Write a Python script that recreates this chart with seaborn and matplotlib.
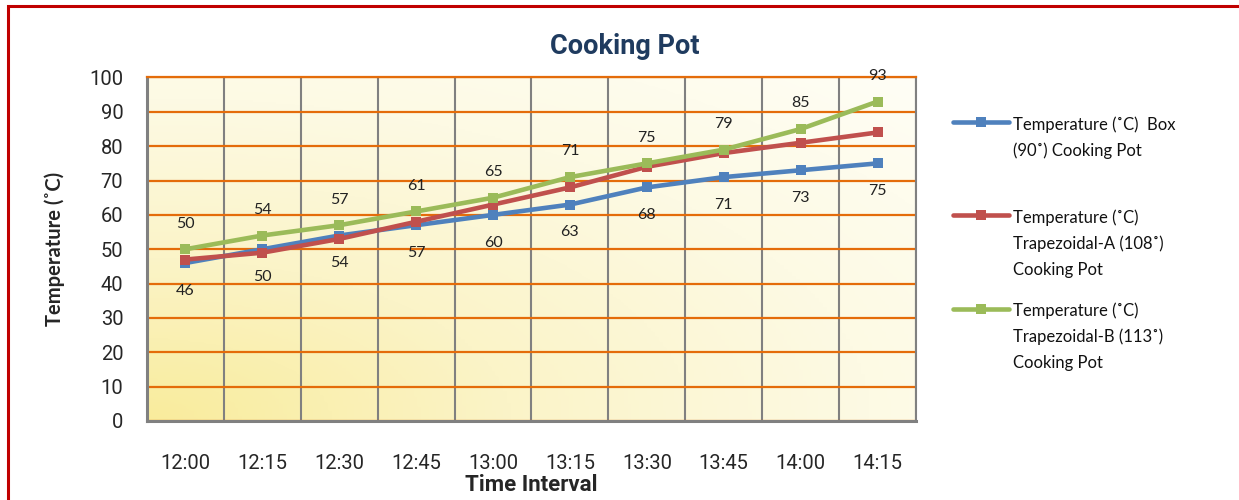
import numpy as np
import pandas as pd
import seaborn as sns
import matplotlib.pyplot as plt
from matplotlib import font_manager
from matplotlib.colors import LinearSegmentedColormap
from matplotlib.patches import Rectangle
from matplotlib.ticker import MultipleLocator, FixedLocator

# data
times = ["12:00", "12:15", "12:30", "12:45", "13:00",
         "13:15", "13:30", "13:45", "14:00", "14:15"]
box_90 = [46, 50, 54, 57, 60, 63, 68, 71, 73, 75]
trap_a_108 = [47, 49, 53, 58, 63, 68, 74, 78, 81, 84]
trap_b_113 = [50, 54, 57, 61, 65, 71, 75, 79, 85, 93]
series_names = [
    "Temperature (˚C)  Box\n(90˚) Cooking Pot",
    "Temperature (˚C)\nTrapezoidal-A (108˚)\nCooking Pot",
    "Temperature (˚C)\nTrapezoidal-B (113˚)\nCooking Pot",
]
colors = ["#4F81BD", "#C0504D", "#9BBB59"]

df = pd.DataFrame({
    "time": times * 3,
    "temp": box_90 + trap_a_108 + trap_b_113,
    "series": [series_names[0]] * 10 + [series_names[1]] * 10 + [series_names[2]] * 10,
})

sns.set_style("white")
installed = {f.name for f in font_manager.fontManager.ttflist}
narrow = ["Liberation Sans Narrow", "Roboto", "DejaVu Sans"]
narrow = [f for f in narrow if f in installed or f == "DejaVu Sans"]
body = ["Lato", "DejaVu Sans"]
plt.rcParams["font.family"] = body

fig = plt.figure(figsize=(12.39, 5), dpi=100)
ax = fig.add_axes([0.1186, 0.158, 0.6207, 0.687])

# soft yellow gradient behind the plot
cmap = LinearSegmentedColormap.from_list("bg", ["#F9EC9C", "#FBF4C8", "#FDFAE4", "#FFFEF6"])
gx, gy = np.meshgrid(np.linspace(0, 1, 200), np.linspace(0, 1, 200))
ax.imshow(np.sqrt(gx ** 2 + gy ** 2) / np.sqrt(2), extent=(-0.5, 9.5, 0, 100),
          origin="lower", cmap=cmap, aspect="auto", zorder=0, interpolation="bilinear")

sns.lineplot(data=df, x="time", y="temp", hue="series", hue_order=series_names,
             palette=colors, marker="s", markersize=7, markeredgewidth=0,
             linewidth=3.3, sort=False, errorbar=None, legend=False, ax=ax, zorder=3)

# data labels: blue under the points, green above
for i, v in enumerate(box_90):
    ax.annotate(str(v), (i, v), xytext=(0, -20), textcoords="offset points",
                ha="center", va="center", fontsize=11.5, color="#222222")
for i, v in enumerate(trap_b_113):
    ax.annotate(str(v), (i, v), xytext=(0, 18.5), textcoords="offset points",
                ha="center", va="center", fontsize=11.5, color="#222222")

ax.set_xlim(-0.5, 9.5)
ax.set_ylim(0, 100)
ax.yaxis.set_major_locator(MultipleLocator(10))
ax.xaxis.set_minor_locator(FixedLocator(np.arange(-0.5, 10, 1)))
ax.set_axisbelow(True)
ax.grid(axis="y", which="major", color="#E46C0A", linewidth=1.6)
ax.grid(axis="x", which="minor", color="#808080", linewidth=1.5)
ax.grid(axis="x", which="major", visible=False)
ax.tick_params(which="both", length=0)
ax.tick_params(axis="y", pad=17, labelsize=14.5, labelfontfamily=narrow)
ax.tick_params(axis="x", pad=24, labelsize=14.5, labelfontfamily=narrow)

for side in ["left", "bottom"]:
    ax.spines[side].set_color("#808080")
    ax.spines[side].set_linewidth(2.2)
ax.spines["right"].set_color("#808080")
ax.spines["right"].set_linewidth(1.5)
ax.spines["top"].set_color("#E46C0A")
ax.spines["top"].set_linewidth(1.6)

ax.set_ylabel("Temperature (˚C)", fontsize=14.5, fontweight="bold")
ax.yaxis.set_label_coords(-0.107, 0.5)
ax.set_xlabel("Time Interval", fontsize=16, fontweight="bold", family=narrow)
ax.xaxis.set_label_coords(0.5, -0.155)

fig.text(0.504, 0.892, "Cooking Pot", ha="center", va="baseline", fontsize=19.5,
         fontweight="bold", color="#1F3B5F", family=narrow)

# legend on the right, handle at the first text line
legend_labels = [series_names[0] + "\n", series_names[1], series_names[2]]
leg = fig.legend(ax.get_lines()[:3], legend_labels, loc="upper left",
                 bbox_to_anchor=(0.769, 0.768), frameon=False, borderpad=0,
                 borderaxespad=0, handlelength=3.4, handleheight=0.85,
                 handletextpad=0.2, labelspacing=1.5, prop={"size": 12})
for t in leg.get_texts():
    t.set_linespacing(1.72)
    t.set_color("#111111")
for col in leg._legend_handle_box.get_children():
    for item in col.get_children():
        item.align = "top"

# red frame (top and left visible in the reference)
fig.patches.append(Rectangle((0.0065, -0.1), 1.1, 1.088, transform=fig.transFigure,
                             fill=False, edgecolor="#C00000", linewidth=2.2))

fig.savefig("out.png", dpi=100)
